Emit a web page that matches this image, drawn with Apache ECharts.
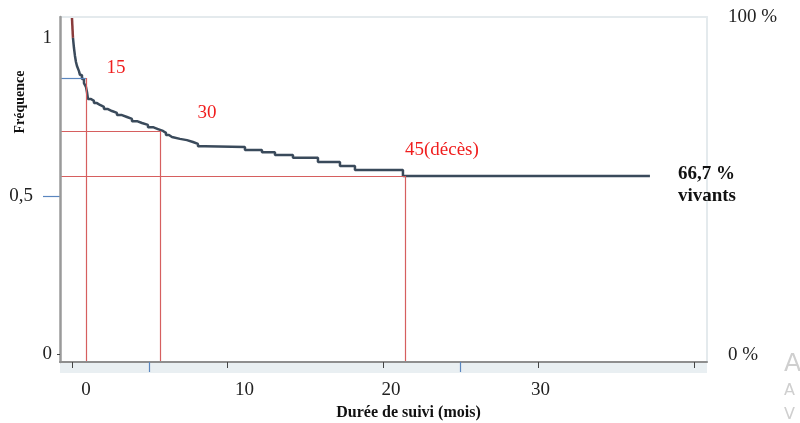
<!DOCTYPE html>
<html>
<head>
<meta charset="utf-8">
<script src="https://cdn.jsdelivr.net/npm/echarts@6/dist/echarts.min.js"></script>
<style>html,body{margin:0;padding:0;background:#fff}#c{width:800px;height:423px}</style>
</head>
<body>
<div id="c"></div>
<script>
// Kaplan-Meier curve (time in months, survival frequency)
const times = [0, 0.064, 0.129, 0.193, 0.257, 0.322, 0.450, 0.514, 0.643, 0.772, 0.900, 0.965, 1.029,
  1.222, 1.415, 1.608, 1.801, 2.058, 2.315, 2.572, 2.894, 3.215, 3.537, 3.859, 4.180, 4.502, 4.887,
  5.209, 5.531, 5.852, 6.045, 6.238, 6.431, 6.945, 7.395, 7.781, 8.103, 8.553, 11.125, 12.219,
  13.055, 14.212, 15.820, 17.235, 18.199, 21.286, 37.170];
const survival = [1.062, 0.999, 0.967, 0.942, 0.923, 0.910, 0.894, 0.882, 0.869, 0.856, 0.844, 0.828, 0.806,
  0.800, 0.793, 0.787, 0.781, 0.774, 0.768, 0.762, 0.755, 0.749, 0.743, 0.736, 0.730, 0.724, 0.717,
  0.711, 0.705, 0.699, 0.692, 0.686, 0.680, 0.676, 0.670, 0.664, 0.657, 0.654, 0.645, 0.638,
  0.629, 0.620, 0.607, 0.594, 0.582, 0.563, 0.563];

// Reference lines (number of deaths reached)
const refTimes = [0.9, 5.66, 21.41];
const refLevels = [0.872, 0.705, 0.563];
const refLabels = ['15', '30', '45(décès)'];

// Axis ticks / labels
const xTickValues = [0, 10, 20, 30, 40];
const xLabelValues = [0, 10, 20, 30];
const xMinorMarks = [5, 25];
const yLabelValues = [0, 1];
const yMidValue = [0.5];
const rightValues = [0, 1];
const endText = ['66,7 %', 'vivants'];
const xName = 'Durée de suivi (mois)';
const yName = 'Fréquence';

const X_MIN = -0.77, X_MAX = 40.84;
const Y_MIN = -0.025, Y_MAX = 1.065;

const SERIF = '"Liberation Serif", "DejaVu Serif", serif';
const RED_LINE = '#d65f5f';
const BLUE = '#5a86bf';
const labelOffsets = [[30, -10], [47, -18], [37, -26]];
const xLabelShift = [28, 34, 16, 4];

const pts = times.map((t, i) => [t, survival[i]]);

const markLines = [];
refTimes.forEach((t, i) => {
  markLines.push([
    { coord: [X_MIN, refLevels[i]], lineStyle: { color: i === 0 ? BLUE : RED_LINE } },
    { coord: [t, refLevels[i]] }
  ]);
  markLines.push([
    { coord: [t, refLevels[i]], lineStyle: { color: RED_LINE } },
    { coord: [t, Y_MIN] }
  ]);
});

const rich = {};
xLabelShift.forEach((p, i) => {
  rich['l' + i] = { padding: [0, 0, 0, p], fontFamily: SERIF, fontSize: 19, color: '#222' };
});

const chart = echarts.init(document.getElementById('c'), null, { renderer: 'canvas' });
chart.setOption({
  animation: false,
  backgroundColor: '#fff',
  grid: { left: 60, right: 93, top: 17, bottom: 61, containLabel: false, outerBoundsMode: 'none' },
  xAxis: [
    {
      type: 'value', min: X_MIN, max: X_MAX, position: 'bottom', z: 5,
      axisLine: { show: true, onZero: false, lineStyle: { color: '#8e8e8e', width: 2 } },
      axisTick: { show: true, inside: false, customValues: xTickValues, length: 6, lineStyle: { color: '#444', width: 1 } },
      axisLabel: {
        show: true, customValues: xLabelValues, margin: 19,
        formatter: (v) => '{l' + xLabelValues.indexOf(Math.round(v)) + '|' + Math.round(v) + '}',
        rich: rich
      },
      splitLine: { show: false },
      name: xName, nameLocation: 'middle', nameGap: 42,
      nameTextStyle: { fontFamily: SERIF, fontWeight: 'bold', fontSize: 16, color: '#111', padding: [0, 0, 0, 50] }
    },
    {
      type: 'value', min: X_MIN, max: X_MAX, position: 'bottom', z: 6,
      axisLine: { show: false, onZero: false },
      axisTick: { show: true, inside: false, customValues: xMinorMarks, length: 10, lineStyle: { color: BLUE, width: 1.2 } },
      axisLabel: { show: false }, splitLine: { show: false }
    },
    {
      type: 'value', min: X_MIN, max: X_MAX, position: 'bottom', offset: 6, z: 1,
      axisLine: { show: true, onZero: false, lineStyle: { color: '#e9eff2', width: 10, cap: 'butt' } },
      axisTick: { show: false }, axisLabel: { show: false }, splitLine: { show: false }
    },
    {
      type: 'value', min: X_MIN, max: X_MAX, position: 'top',
      axisLine: { show: true, onZero: false, lineStyle: { color: '#e4eaed', width: 2 } },
      axisTick: { show: false }, axisLabel: { show: false }, splitLine: { show: false }
    }
  ],
  yAxis: [
    {
      type: 'value', min: Y_MIN, max: Y_MAX, position: 'left', z: 5,
      axisLine: { show: true, onZero: false, lineStyle: { color: '#9a9a9a', width: 2.5 } },
      axisTick: { show: true, inside: false, customValues: [0], length: 3, lineStyle: { color: '#444' } },
      axisLabel: {
        show: true, customValues: yLabelValues, margin: 8,
        formatter: (v) => String(v).replace('.', ','),
        fontFamily: SERIF, fontSize: 19, color: '#222'
      },
      splitLine: { show: false }
    },
    {
      type: 'value', min: Y_MIN, max: Y_MAX, position: 'left',
      axisLine: { show: false, onZero: false },
      axisTick: { show: true, inside: false, customValues: yMidValue, length: 17, lineStyle: { color: BLUE, width: 1.2 } },
      axisLabel: {
        show: true, customValues: yMidValue, margin: 27,
        formatter: (v) => String(v).replace('.', ','),
        fontFamily: SERIF, fontSize: 19, color: '#222'
      },
      splitLine: { show: false }
    },
    {
      type: 'value', min: -0.02, max: 1, position: 'right',
      axisLine: { show: true, onZero: false, lineStyle: { color: '#e4eaed', width: 2 } },
      axisTick: { show: false },
      axisLabel: {
        show: true, customValues: rightValues, margin: 21,
        formatter: (v) => Math.round(v * 100) + ' %',
        fontFamily: SERIF, fontSize: 19, color: '#222', align: 'left'
      },
      splitLine: { show: false }
    }
  ],
  graphic: [
    { type: 'text', x: 20, y: 102, rotation: Math.PI / 2,
      style: { text: yName, font: 'bold 14px ' + SERIF, fill: '#111', align: 'center', verticalAlign: 'middle' } },
    { type: 'text', x: 784, y: 364, style: { text: 'A', font: '25px "DejaVu Sans", sans-serif', fill: '#cfcfcf', verticalAlign: 'middle' } },
    { type: 'text', x: 784, y: 391, style: { text: 'A', font: '16px "DejaVu Sans", sans-serif', fill: '#cfcfcf', verticalAlign: 'middle' } },
    { type: 'text', x: 784, y: 415, style: { text: 'V', font: '16px "DejaVu Sans", sans-serif', fill: '#cfcfcf', verticalAlign: 'middle' } }
  ],
  series: [
    {
      name: 'refs', type: 'line', data: [], z: 1, silent: true,
      markLine: {
        silent: true, symbol: ['none', 'none'], animation: false,
        label: { show: false },
        lineStyle: { type: 'solid', width: 1.2, color: RED_LINE },
        data: markLines
      },
      markPoint: {
        silent: true, symbol: 'circle', symbolSize: 0,
        label: { show: true, position: 'inside', formatter: '{b}', fontFamily: SERIF, fontSize: 19, color: '#f01e1e' },
        data: refTimes.map((t, i) => ({ name: refLabels[i], coord: [t, refLevels[i]], label: { offset: labelOffsets[i] } }))
      }
    },
    {
      name: 'debut', type: 'line', step: 'end', showSymbol: false, z: 4,
      lineStyle: { color: '#8a3b3b', width: 2.5 },
      data: pts.slice(0, 2)
    },
    {
      name: 'survie', type: 'line', step: 'end', showSymbol: false, z: 3,
      lineStyle: { color: '#3a4a5b', width: 2.5 },
      data: pts.slice(1),
      endLabel: {
        show: true, distance: 28, offset: [0, 9],
        formatter: () => endText.map(s => '{b|' + s + '}').join('\n'),
        rich: { b: { fontFamily: SERIF, fontWeight: 'bold', fontSize: 19, color: '#111', lineHeight: 22 } }
      }
    }
  ]
});
</script>
</body>
</html>
